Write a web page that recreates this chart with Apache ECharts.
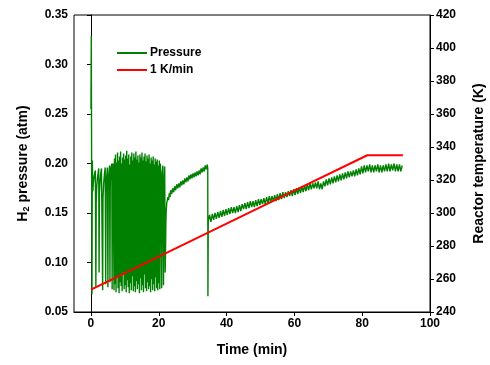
<!DOCTYPE html>
<html>
<head>
<meta charset="utf-8">
<script src="https://cdn.jsdelivr.net/npm/echarts@6/dist/echarts.min.js"></script>
<style>
html,body{margin:0;padding:0;background:#fff;}
#chart{width:490px;height:365px;}
</style>
</head>
<body>
<div id="chart"></div>
<script>
// ---- data ----
const timeTicks = [0, 20, 40, 60, 80, 100];
const seriesNames = ['Pressure', '1 K/min'];

// H2 pressure (atm) vs time (min)
const pressureStart = [
  [0.0,0.255],[0.1,0.329],[0.3,0.068],[0.4,0.203],[0.55,0.172],[0.7,0.180],[0.9,0.186],[1.1,0.190],[1.3,0.193],
  [1.45,0.075],[1.55,0.160],[1.7,0.176],[1.9,0.185],[2.1,0.190],[2.3,0.195],[2.4,0.090],[2.5,0.170],[2.7,0.182],
  [2.9,0.190],[3.1,0.195],[3.3,0.197],[3.45,0.072],[3.55,0.165],[3.75,0.180],[4.0,0.190],[4.2,0.196],[4.35,0.078],
  [4.45,0.170],[4.6,0.185],[4.85,0.196],[5.0,0.075],[5.1,0.175],[5.3,0.190],[5.5,0.198],[5.6,0.080],[5.7,0.180],
  [5.9,0.195],[6.15,0.200],[6.25,0.073],[6.35,0.185],[6.55,0.200]
];
const pressureOscillation = [
  [6.80,0.072],[6.95,0.205],[7.10,0.078],[7.25,0.209],[7.40,0.070],[7.55,0.201],[7.70,0.085],[7.85,0.211],
  [8.00,0.074],[8.15,0.203],[8.30,0.069],[8.45,0.207],[8.60,0.080],[8.75,0.212],[8.90,0.076],[9.05,0.200],
  [9.20,0.071],[9.35,0.206],[9.50,0.090],[9.65,0.210],[9.80,0.073],[9.95,0.204],[10.10,0.077],[10.25,0.208],
  [10.40,0.070],[10.55,0.213],[10.70,0.082],[10.85,0.205],[11.00,0.075],[11.15,0.209],[11.30,0.069],[11.45,0.199],
  [11.60,0.079],[11.75,0.207],[11.90,0.072],[12.05,0.211],[12.20,0.086],[12.35,0.203],[12.50,0.071],[12.65,0.210],
  [12.80,0.076],[12.95,0.206],[13.10,0.070],[13.25,0.212],[13.40,0.081],[13.55,0.204],[13.70,0.073],[13.85,0.208],
  [14.00,0.078],[14.15,0.201],[14.30,0.069],[14.45,0.209],[14.60,0.084],[14.75,0.206],[14.90,0.072],[15.05,0.211],
  [15.20,0.077],[15.35,0.203],[15.50,0.070],[15.65,0.207],[15.80,0.088],[15.95,0.210],[16.10,0.074],[16.25,0.202],
  [16.40,0.071],[16.55,0.208],[16.70,0.080],[16.85,0.205],[17.00,0.073],[17.15,0.209],[17.30,0.076],[17.45,0.200],
  [17.60,0.070],[17.75,0.206],[17.90,0.083],[18.05,0.203],[18.20,0.072],[18.35,0.207],[18.50,0.078],[18.65,0.199],
  [18.80,0.071],[18.95,0.205],[19.10,0.085],[19.25,0.202],[19.40,0.074],[19.55,0.204],[19.70,0.072],[19.85,0.198],
  [20.00,0.079],[20.15,0.203],[20.30,0.073],[20.45,0.200],[20.65,0.190],[20.85,0.074],[21.0,0.185],[21.2,0.198],
  [21.4,0.077],[21.55,0.180],[21.75,0.197],[21.9,0.090],[22.05,0.125]
];
const pressureRecovery = [
  [22.1,0.140],[22.2,0.152],[22.35,0.160],[22.5,0.158],[22.7,0.166],[22.9,0.163],[23.1,0.170],[23.3,0.166],
  [23.5,0.173],[23.8,0.169],[24.1,0.175],[24.4,0.171],[24.7,0.177],[25.0,0.173],[25.3,0.179],[25.6,0.175],
  [25.9,0.180],[26.2,0.176],[26.5,0.182],[26.8,0.178],[27.1,0.183],[27.4,0.179],[27.7,0.185],[28.0,0.181],
  [28.3,0.186],[28.6,0.182],[28.9,0.188],[29.2,0.184],[29.5,0.189],[29.8,0.185],[30.1,0.190],[30.4,0.186],
  [30.7,0.191],[31.0,0.187],[31.3,0.192],[31.6,0.188],[31.9,0.193],[32.2,0.189],[32.5,0.195],[32.8,0.191],
  [33.1,0.196],[33.4,0.192],[33.7,0.198],[34.0,0.194],[34.3,0.199],[34.45,0.195],[34.5,0.066]
];
const pressureRamp = [
  [34.6,0.142],[35.0,0.148],[35.4,0.141],[35.8,0.149],[36.2,0.143],[36.6,0.150],[37.0,0.144],[37.4,0.151],
  [37.8,0.145],[38.2,0.152],[38.6,0.146],[39.0,0.153],[39.4,0.147],[39.8,0.154],[40.2,0.148],[40.6,0.155],
  [41.0,0.149],[41.4,0.156],[41.8,0.150],[42.2,0.156],[42.6,0.150],[43.0,0.157],[43.4,0.151],[43.8,0.158],
  [44.2,0.152],[44.6,0.159],[45.0,0.154],[45.4,0.160],[45.8,0.154],[46.2,0.161],[46.6,0.155],[47.0,0.162],
  [47.4,0.156],[47.8,0.162],[48.2,0.156],[48.6,0.163],[49.0,0.157],[49.4,0.164],[49.8,0.158],[50.2,0.164],
  [50.6,0.159],[51.0,0.165],[51.4,0.159],[51.8,0.166],[52.2,0.160],[52.6,0.167],[53.0,0.161],[53.4,0.167],
  [53.8,0.162],[54.2,0.168],[54.6,0.162],[55.0,0.169],[55.4,0.163],[55.8,0.170],[56.2,0.164],[56.6,0.171],
  [57.0,0.165],[57.4,0.171],[57.8,0.166],[58.2,0.172],[58.6,0.167],[59.0,0.173],[59.4,0.167],[59.8,0.174],
  [60.2,0.168],[60.6,0.175],[61.0,0.169],[61.4,0.176],[61.8,0.170],[62.2,0.177],[62.6,0.171],[63.0,0.178],
  [63.4,0.172],[63.8,0.179],[64.2,0.173],[64.6,0.180],[65.0,0.174],[65.4,0.180],[65.8,0.175],[66.2,0.181],
  [66.6,0.175],[67.0,0.182],[67.4,0.174],[67.8,0.180],[68.2,0.174],[68.6,0.182],[69.0,0.177],[69.4,0.184],
  [69.8,0.178],[70.2,0.185],[70.6,0.179],[71.0,0.186],[71.4,0.180],[71.8,0.187],[72.2,0.181],[72.6,0.188],
  [73.0,0.182],[73.4,0.189],[73.8,0.183],[74.2,0.190],[74.6,0.184],[75.0,0.191],[75.4,0.185],[75.8,0.192],
  [76.2,0.186],[76.6,0.192],[77.0,0.187],[77.4,0.193],[77.8,0.187],[78.2,0.194],[78.6,0.188],[79.0,0.195],
  [79.4,0.189],[79.8,0.197],[80.2,0.190],[80.6,0.198],[81.0,0.191],[81.4,0.198],[81.8,0.192],[82.2,0.199],
  [82.6,0.191],[83.0,0.198],[83.4,0.191],[83.8,0.198],[84.2,0.192],[84.6,0.199],[85.0,0.191],[85.4,0.198],
  [85.8,0.191],[86.2,0.198],[86.6,0.192],[87.0,0.199],[87.4,0.192],[87.8,0.200],[88.2,0.192],[88.6,0.199],
  [89.0,0.193],[89.4,0.200],[89.8,0.192],[90.2,0.199],[90.6,0.192],[91.0,0.199],[91.4,0.192],[91.8,0.198]
];
// Reactor temperature (K) vs time (min)
const temperature = [[0,253.5],[20,273.5],[40,293.5],[60,313.5],[81.5,335.0],[92,335.0]];

const pressure = pressureStart.concat(pressureOscillation, pressureRecovery, pressureRamp);

const FONT = '"Liberation Sans", Arial, sans-serif';
const chart = echarts.init(document.getElementById('chart'), null, {renderer: 'canvas'});
const axisCommon = {
  axisLine: {show: true, lineStyle: {color: '#000', width: 1}},
  axisTick: {show: true, inside: false, length: 4, lineStyle: {color: '#000'}},
  splitLine: {show: false},
  axisLabel: {color: '#000', fontFamily: FONT, fontWeight: 'bold', fontSize: 12, margin: 6},
  nameTextStyle: {color: '#000', fontFamily: FONT, fontWeight: 'bold', fontSize: 14}
};
chart.setOption({
  animation: false,
  backgroundColor: '#fff',
  grid: {left: 74, right: 60, top: 15, bottom: 53, outerBoundsMode: 'none', containLabel: false,
         show: true, borderColor: '#000', borderWidth: 1, backgroundColor: 'transparent'},
  legend: {
    data: seriesNames, orient: 'vertical', left: 111, top: 42, itemWidth: 30, itemHeight: 10, itemGap: 5,
    itemStyle: {opacity: 0},
    textStyle: {color: '#000', fontFamily: FONT, fontWeight: 'bold', fontSize: 12, padding: [0, 0, 0, -2]}
  },
  xAxis: {
    type: 'value', min: -5, max: 100,
    name: 'Time (min)', nameLocation: 'middle', nameGap: 31,
    axisLine: axisCommon.axisLine,
    axisTick: Object.assign({}, axisCommon.axisTick, {customValues: timeTicks}),
    axisLabel: Object.assign({}, axisCommon.axisLabel, {customValues: timeTicks}),
    splitLine: {show: false},
    nameTextStyle: axisCommon.nameTextStyle
  },
  yAxis: [
    Object.assign({}, axisCommon, {
      type: 'value', min: 0.05, max: 0.35, interval: 0.05, position: 'left',
      name: 'H{sub|2} pressure (atm)', nameLocation: 'middle', nameGap: 43,
      axisLabel: Object.assign({}, axisCommon.axisLabel, {formatter: v => v.toFixed(2)}),
      nameTextStyle: Object.assign({}, axisCommon.nameTextStyle, {
        rich: {sub: {fontFamily: FONT, fontWeight: 'bold', fontSize: 9, color: '#000', verticalAlign: 'bottom', padding: [6, 0, 0, 0]}}
      })
    }),
    Object.assign({}, axisCommon, {
      type: 'value', min: 240, max: 420, interval: 20, position: 'right',
      name: 'Reactor temperature (K)', nameLocation: 'middle', nameGap: 42, nameRotate: 90
    })
  ],
  series: [
    {name: seriesNames[0], type: 'line', yAxisIndex: 0, data: pressure, symbol: 'none', showSymbol: false,
     lineStyle: {color: '#008000', width: 1.4}, itemStyle: {color: '#008000'}, z: 2},
    {name: seriesNames[1], type: 'line', yAxisIndex: 1, data: temperature, symbol: 'none', showSymbol: false,
     lineStyle: {color: '#ff0000', width: 2}, itemStyle: {color: '#ff0000'}, z: 3}
  ]
});
</script>
</body>
</html>
